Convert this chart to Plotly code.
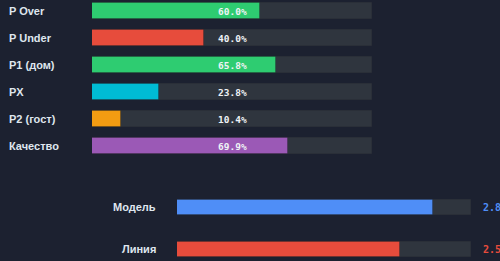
import plotly.graph_objects as go

# ---- data ----
prob_labels = ["P Over", "P Under", "P1 (дом)", "PX", "P2 (гост)", "Качество"]
prob_values = [60.0, 40.0, 65.8, 23.8, 10.4, 69.9]
prob_colors = ["#2ecc71", "#e74c3c", "#2ecc71", "#00bcd4", "#f39c12", "#9b59b6"]

total_labels = ["Модель", "Линия"]
total_values = [2.87, 2.50]
total_colors = ["#4f8ef7", "#e74c3c"]

BG = "#1c2130"
TRACK = "#2f353e"
LABEL = "#dfe6ee"
W, H = 500, 261

fig = go.Figure()

rows = list(range(len(prob_labels)))
# tracks
fig.add_trace(go.Bar(
    x=[100] * len(rows), y=rows, orientation="h", width=0.6,
    marker=dict(color=TRACK, line=dict(color="#2a2f38", width=1)),
    xaxis="x", yaxis="y", hoverinfo="skip", showlegend=False))
fig.add_trace(go.Bar(
    x=prob_values, y=rows, orientation="h", width=0.6,
    marker=dict(color=prob_colors, line=dict(color="rgba(0,0,0,0.18)", width=1)),
    xaxis="x", yaxis="y", showlegend=False))

trows = list(range(len(total_labels)))
tmax = max(total_values) * 1.15
fig.add_trace(go.Bar(
    x=[tmax] * len(trows), y=trows, orientation="h", width=0.36,
    marker=dict(color=TRACK, line=dict(color="#2a2f38", width=1)),
    xaxis="x2", yaxis="y2", hoverinfo="skip", showlegend=False))
fig.add_trace(go.Bar(
    x=total_values, y=trows, orientation="h", width=0.36,
    marker=dict(color=total_colors, line=dict(color="rgba(0,0,0,0.18)", width=1)),
    xaxis="x2", yaxis="y2", showlegend=False))

ann = []
for i, (lab, v) in enumerate(zip(prob_labels, prob_values)):
    ann.append(dict(x=7 / W, xref="paper", y=i, yref="y", text=lab,
                    xanchor="left", yanchor="middle", showarrow=False,
                    font=dict(family="Liberation Sans", size=11, color=LABEL, weight="bold")))
    ann.append(dict(x=50, xref="x", y=i, yref="y", text=f"{v:.1f}%",
                    xanchor="center", yanchor="middle", showarrow=False,
                    font=dict(family="DejaVu Sans Mono", size=9.5, color="#eef2f5", weight="bold")))
for j, (lab, v, c) in enumerate(zip(total_labels, total_values, total_colors)):
    ann.append(dict(x=158 / W, xref="paper", y=j, yref="y2", text=lab,
                    xanchor="right", yanchor="middle", showarrow=False,
                    font=dict(family="Liberation Sans", size=11, color=LABEL, weight="bold")))
    ann.append(dict(x=481 / W, xref="paper", y=j, yref="y2", text=f"{v:.2f}",
                    xanchor="left", yanchor="middle", showarrow=False,
                    font=dict(family="DejaVu Sans Mono", size=10, color=c, weight="bold")))

ax = dict(showgrid=False, zeroline=False, showticklabels=False, showline=False, fixedrange=True)
fig.update_layout(
    width=W, height=H, margin=dict(l=0, r=0, t=0, b=0),
    paper_bgcolor=BG, plot_bgcolor=BG, barmode="overlay", bargap=0,
    xaxis=dict(domain=[92 / W, 372 / W], range=[0, 100], **ax),
    yaxis=dict(domain=[1 - 160 / H, 1], range=[149 / 27, -11 / 27], anchor="x", **ax),
    xaxis2=dict(domain=[177 / W, 471 / W], range=[0, tmax], anchor="y2", **ax),
    yaxis2=dict(domain=[0, 1 - 170 / H], range=[(261 - 207.5) / 42, (170 - 207.5) / 42], anchor="x2", **ax),
    annotations=ann,
)

fig.write_html("out.html")
